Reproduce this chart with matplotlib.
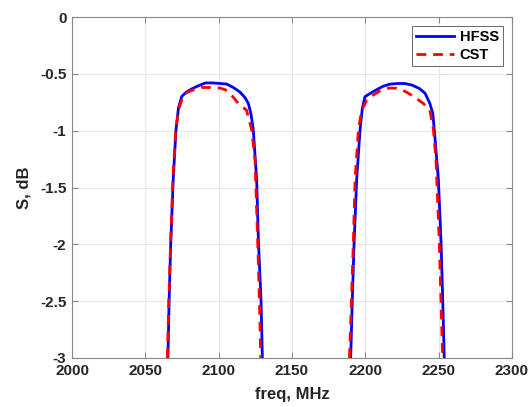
import numpy as np
import matplotlib
matplotlib.use('Agg')
import matplotlib.pyplot as plt

plt.rcParams['font.family'] = ['Liberation Sans', 'DejaVu Sans']
plt.rcParams['font.weight'] = 'bold'
plt.rcParams['axes.unicode_minus'] = False

# HFSS, two passbands (values below -3 dB are clipped by the axes)
hfss_f1 = [2064.6, 2065.4, 2066.2, 2067.3, 2069.0, 2070.9, 2072.6, 2074.8, 2078.0,
           2082.0, 2087.0, 2091.0, 2096.0, 2101.0, 2105.5, 2110.0, 2114.5, 2118.0,
           2120.2, 2122.0, 2123.6, 2125.9, 2127.1, 2128.9, 2129.8, 2130.5]
hfss_s1 = [-3.5, -3.0, -2.5, -2.0, -1.43, -0.99, -0.80, -0.70, -0.66,
           -0.63, -0.60, -0.58, -0.58, -0.585, -0.59, -0.62, -0.66, -0.71,
           -0.76, -0.85, -0.99, -1.43, -1.97, -2.5, -3.0, -3.5]
hfss_f2 = [2189.3, 2190.0, 2191.1, 2192.3, 2194.1, 2196.4, 2198.0, 2199.8, 2205.5,
           2212.0, 2217.0, 2222.0, 2227.0, 2232.0, 2237.0, 2240.7, 2244.0, 2246.0,
           2247.0, 2249.8, 2251.6, 2252.8, 2253.8, 2254.5]
hfss_s2 = [-3.5, -3.0, -2.5, -2.0, -1.43, -0.99, -0.80, -0.70, -0.655,
           -0.61, -0.59, -0.585, -0.585, -0.60, -0.63, -0.67, -0.76, -0.85,
           -0.99, -1.43, -1.97, -2.5, -3.0, -3.5]

# CST, two passbands
cst_f1 = [2064.3, 2065.0, 2066.0, 2067.2, 2068.8, 2070.7, 2073.0, 2075.9, 2079.0,
          2083.0, 2088.0, 2094.0, 2101.0, 2104.5, 2107.7, 2113.4, 2119.0, 2122.5,
          2124.8, 2126.6, 2127.8, 2128.7, 2129.4]
cst_s1 = [-3.5, -3.0, -2.5, -2.0, -1.43, -0.99, -0.80, -0.69, -0.66,
          -0.64, -0.62, -0.62, -0.625, -0.64, -0.67, -0.76, -0.82, -0.99,
          -1.26, -1.97, -2.5, -3.0, -3.5]
cst_f2 = [2188.5, 2189.2, 2190.5, 2191.8, 2193.0, 2195.3, 2197.5, 2201.0, 2205.0,
          2210.0, 2214.5, 2218.0, 2221.3, 2225.0, 2229.3, 2234.0, 2239.5, 2244.0,
          2246.4, 2248.2, 2250.4, 2251.6, 2252.7, 2253.4]
cst_s2 = [-3.5, -3.0, -2.5, -2.0, -1.43, -0.99, -0.82, -0.73, -0.69,
          -0.65, -0.627, -0.625, -0.627, -0.64, -0.67, -0.71, -0.76, -0.82,
          -0.99, -1.26, -1.97, -2.5, -3.0, -3.5]

x_ticks = [2000, 2050, 2100, 2150, 2200, 2250, 2300]
y_ticks = [-3, -2.5, -2, -1.5, -1, -0.5, 0]
y_labels = ['-3', '-2.5', '-2', '-1.5', '-1', '-0.5', '0']

fig = plt.figure(figsize=(5.31, 4.07), dpi=100)
ax = fig.add_axes([0.1356, 0.1204, 0.8286, 0.8378])

hfss_f = hfss_f1 + [np.nan] + hfss_f2
hfss_s = hfss_s1 + [np.nan] + hfss_s2
cst_f = cst_f1 + [np.nan] + cst_f2
cst_s = cst_s1 + [np.nan] + cst_s2

ax.plot(hfss_f, hfss_s, color='#0000ff', lw=2.0, label='HFSS')
ax.plot(cst_f, cst_s, color='#ff0000', lw=2.0, ls=(0, (3.5, 2.5)), label='CST')

ax.set_xlim(2000, 2300)
ax.set_ylim(-3, 0)
ax.set_xticks(x_ticks)
ax.set_yticks(y_ticks)
ax.set_yticklabels(y_labels)
ax.grid(True, color='#e8e8e8', lw=0.8)
ax.set_axisbelow(True)

for sp in ax.spines.values():
    sp.set_color('#8a8a8a')
    sp.set_linewidth(0.8)
ax.tick_params(direction='in', length=4, width=0.8, color='#8a8a8a',
               labelsize=11, labelcolor='#262626', top=True, right=True, pad=4)
for lbl in ax.get_xticklabels() + ax.get_yticklabels():
    lbl.set_fontweight('bold')

ax.set_xlabel('freq, MHz', fontsize=12, fontweight='bold', color='#262626', labelpad=7)
ax.set_ylabel('S, dB', fontsize=12, fontweight='bold', color='#262626', labelpad=6)

leg = ax.legend(loc='upper right', fontsize=10.5, frameon=True, fancybox=False,
                borderpad=0.3, handlelength=2.6, handletextpad=0.4,
                labelspacing=0.25, borderaxespad=0.6)
leg.get_frame().set_edgecolor('#262626')
leg.get_frame().set_linewidth(0.6)
for t in leg.get_texts():
    t.set_fontweight('bold')

fig.savefig('out.png', dpi=100)
